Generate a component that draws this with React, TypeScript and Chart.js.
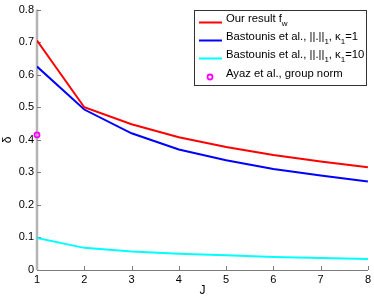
import React, { useEffect, useRef } from "react";
import { Chart, registerables } from "chart.js";
Chart.register(...registerables);

const J = [1, 2, 3, 4, 5, 6, 7, 8];
const ourResult = [0.705, 0.5, 0.448, 0.408, 0.378, 0.353, 0.333, 0.316];
const bastounis1 = [0.625, 0.493, 0.42, 0.37, 0.337, 0.31, 0.29, 0.272];
const bastounis10 = [0.098, 0.068, 0.057, 0.05, 0.045, 0.04, 0.037, 0.034];
const ayazJ = [1];
const ayaz = [0.415];
const yTicks = [0, 0.1, 0.2, 0.3, 0.4, 0.5, 0.6, 0.7, 0.8];
const xTicks = [1, 2, 3, 4, 5, 6, 7, 8];

const FONT = "Liberation Sans, Arial, sans-serif";

const axesPlugin = {
  id: "matlabAxes",
  beforeDatasetsDraw(chart: any) {
    const { ctx, chartArea: a, scales } = chart;
    const x = scales.x, y = scales.y;
    ctx.save();
    // bottom axis
    ctx.strokeStyle = "#7a7a7a";
    ctx.lineWidth = 1;
    ctx.beginPath();
    ctx.moveTo(a.left, a.bottom + 0.5);
    ctx.lineTo(a.right, a.bottom + 0.5);
    ctx.stroke();
    xTicks.forEach((t) => {
      const px = Math.round(x.getPixelForValue(t)) + 0.5;
      ctx.beginPath();
      ctx.moveTo(px, a.bottom);
      ctx.lineTo(px, a.bottom - 4);
      ctx.stroke();
    });
    // left axis
    ctx.strokeStyle = "#b4b4b4";
    ctx.lineWidth = 2.5;
    ctx.beginPath();
    ctx.moveTo(a.left, a.top);
    ctx.lineTo(a.left, a.bottom);
    ctx.stroke();
    ctx.strokeStyle = "#7a7a7a";
    ctx.lineWidth = 1;
    yTicks.forEach((t) => {
      const py = Math.round(y.getPixelForValue(t)) + 0.5;
      ctx.beginPath();
      ctx.moveTo(a.left, py);
      ctx.lineTo(a.left + 4, py);
      ctx.stroke();
    });
    // axis titles
    ctx.fillStyle = "#000";
    ctx.font = `12px ${FONT}`;
    ctx.textAlign = "center";
    ctx.textBaseline = "middle";
    ctx.fillText("J", (a.left + a.right) / 2, 291);
    ctx.save();
    ctx.translate(8, (a.top + a.bottom) / 2);
    ctx.rotate(-Math.PI / 2);
    ctx.fillText("δ", 0, 0);
    ctx.restore();
    ctx.restore();
  },
};

const legendPlugin = {
  id: "customLegend",
  afterDraw(chart: any) {
    const { ctx } = chart;
    ctx.save();
    const bx = 194.5, by = 10.5, bw = 172, bh = 75;
    ctx.fillStyle = "#fff";
    ctx.fillRect(bx, by, bw, bh);
    ctx.strokeStyle = "#333";
    ctx.lineWidth = 1;
    ctx.strokeRect(bx, by, bw, bh);
    const rows: any[] = [
      { color: "#ff0000", y: 22, parts: [["Our result f", 0], ["w", 1]] },
      { color: "#0000ff", y: 40, parts: [["Bastounis et al., ||.||", 0], ["1", 1], [", κ", 0], ["1", 1], ["=1", 0]] },
      { color: "#00ffff", y: 58, parts: [["Bastounis et al., ||.||", 0], ["1", 1], [", κ", 0], ["1", 1], ["=10", 0]] },
      { color: "#ff00ff", y: 77, marker: true, parts: [["Ayaz et al., group norm", 0]] },
    ];
    rows.forEach((r) => {
      if (r.marker) {
        ctx.strokeStyle = r.color;
        ctx.lineWidth = 1.8;
        ctx.beginPath();
        ctx.arc(210, r.y, 2.5, 0, Math.PI * 2);
        ctx.stroke();
      } else {
        ctx.strokeStyle = r.color;
        ctx.lineWidth = 2;
        ctx.beginPath();
        ctx.moveTo(199, r.y + 0.5);
        ctx.lineTo(222, r.y + 0.5);
        ctx.stroke();
      }
      let tx = 226;
      ctx.fillStyle = "#000";
      ctx.textAlign = "left";
      ctx.textBaseline = "alphabetic";
      r.parts.forEach(([s, sub]: [string, number]) => {
        if (sub) {
          ctx.font = `8px ${FONT}`;
          ctx.fillText(s, tx, r.y + 4);
        } else {
          ctx.font = `11.3px ${FONT}`;
          ctx.fillText(s, tx, r.y + 0);
        }
        tx += ctx.measureText(s).width;
      });
    });
    ctx.restore();
  },
};

export default function App() {
  const ref = useRef<HTMLCanvasElement>(null);
  useEffect(() => {
    document.body.style.margin = "0";
    const chart = new Chart(ref.current!, {
      type: "scatter",
      data: {
        datasets: [
          {
            label: "Our result f_w",
            data: J.map((j, i) => ({ x: j, y: ourResult[i] })),
            showLine: true,
            borderColor: "#ff0000",
            borderWidth: 2,
            pointRadius: 0,
          },
          {
            label: "Bastounis k1=1",
            data: J.map((j, i) => ({ x: j, y: bastounis1[i] })),
            showLine: true,
            borderColor: "#0000ff",
            borderWidth: 2,
            pointRadius: 0,
          },
          {
            label: "Bastounis k1=10",
            data: J.map((j, i) => ({ x: j, y: bastounis10[i] })),
            showLine: true,
            borderColor: "#00ffff",
            borderWidth: 2,
            pointRadius: 0,
          },
          {
            label: "Ayaz",
            data: ayazJ.map((j, i) => ({ x: j, y: ayaz[i] })),
            showLine: false,
            borderColor: "#ff00ff",
            backgroundColor: "rgba(0,0,0,0)",
            borderWidth: 1.8,
            pointRadius: 2.5,
            clip: false,
          },
        ],
      },
      options: {
        animation: false,
        responsive: false,
        layout: { padding: { left: 0, top: 9, right: 6, bottom: 0 } },
        plugins: { legend: { display: false }, tooltip: { enabled: false } },
        scales: {
          x: {
            type: "linear",
            min: 1,
            max: 8,
            afterFit: (s: any) => { s.height = 29; },
            afterBuildTicks: (s: any) => { s.ticks = xTicks.map((v) => ({ value: v })); },
            grid: { display: false, drawTicks: false },
            border: { display: false },
            ticks: { color: "#000", font: { family: FONT, size: 11 }, padding: 3, maxRotation: 0 },
          },
          y: {
            type: "linear",
            min: 0,
            max: 0.8,
            afterFit: (s: any) => { s.width = 37; },
            afterBuildTicks: (s: any) => { s.ticks = yTicks.map((v) => ({ value: v })); },
            grid: { display: false, drawTicks: false },
            border: { display: false },
            ticks: { color: "#000", font: { family: FONT, size: 11 }, padding: 3, callback: (v: any) => String(Math.round(v * 10) / 10) },
          },
        },
      },
      plugins: [axesPlugin, legendPlugin],
    } as any);
    return () => chart.destroy();
  }, []);
  return (
    <div style={{ position: "fixed", left: 0, top: 0 }}>
      <canvas ref={ref} width={374} height={299} style={{ width: 374, height: 299, display: "block" }} />
    </div>
  );
}
